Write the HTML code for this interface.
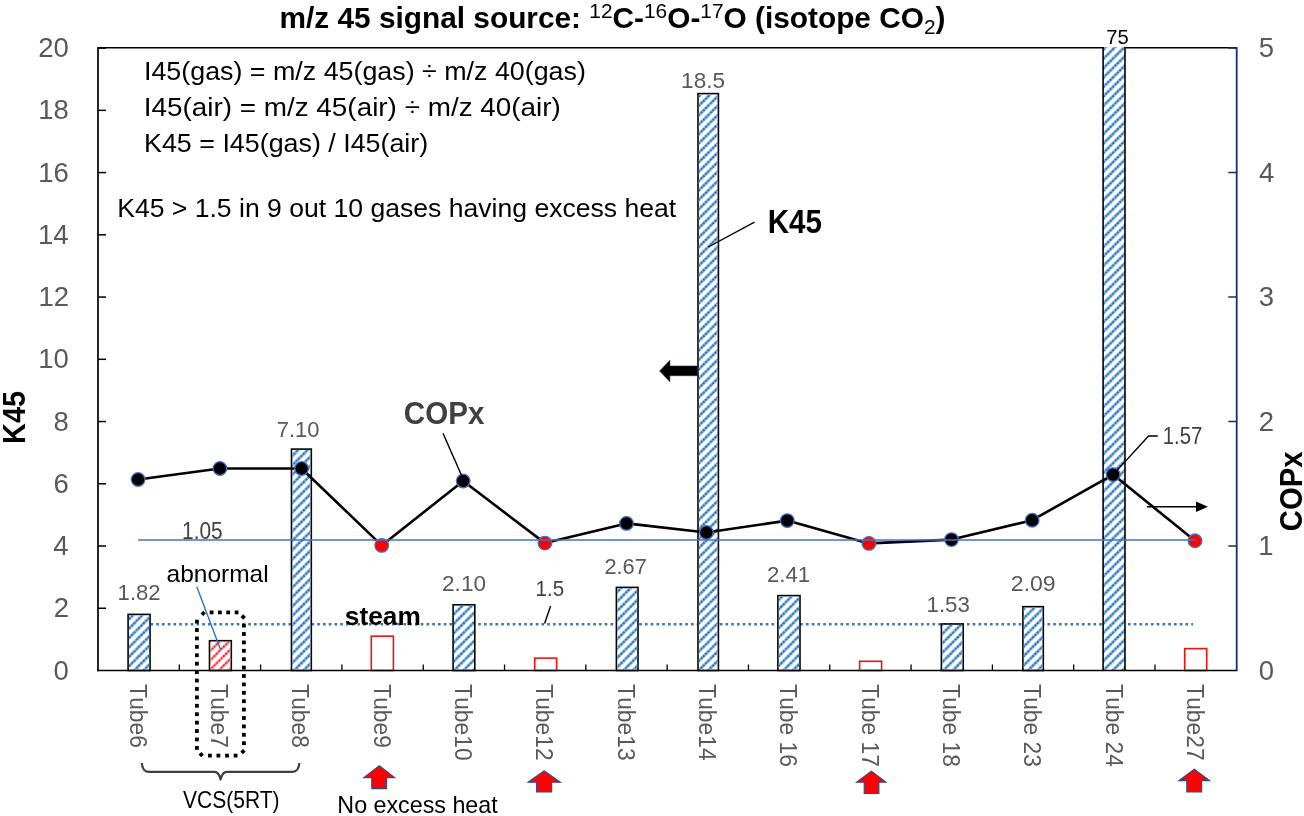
<!DOCTYPE html>
<html><head><meta charset="utf-8"><style>
html,body{margin:0;padding:0;background:#fff;width:1304px;height:816px;overflow:hidden}
svg{display:block;filter:blur(0.4px)}
text{font-family:"Liberation Sans",sans-serif}
</style></head><body>
<svg width="1304" height="816" viewBox="0 0 1304 816">
<defs>
<pattern id="hb" patternUnits="userSpaceOnUse" x="4.7" y="0" width="9.41" height="9.41">
<path d="M-2,2 L2,-2 M0,9.41 L9.41,0 M7.41,11.41 L11.41,7.41" stroke="#86b7e3" stroke-width="2.9"/>
<path d="M-2,2 L2,-2 M0,9.41 L9.41,0 M7.41,11.41 L11.41,7.41" stroke="#1a68bb" stroke-width="2.0" stroke-dasharray="2.0 1.32" stroke-dashoffset="0.5"/>
</pattern>
<pattern id="hr" patternUnits="userSpaceOnUse" x="4.7" y="0" width="9.41" height="9.41">
<path d="M-2,2 L2,-2 M0,9.41 L9.41,0 M7.41,11.41 L11.41,7.41" stroke="#ff9a9a" stroke-width="2.5"/>
<path d="M-2,2 L2,-2 M0,9.41 L9.41,0 M7.41,11.41 L11.41,7.41" stroke="#ff0000" stroke-width="1.7" stroke-dasharray="2.0 1.32" stroke-dashoffset="0.5"/>
</pattern>
</defs>

<text x="279.5" y="27.8" font-size="30" font-weight="bold" fill="#000" textLength="666" lengthAdjust="spacingAndGlyphs">m/z 45 signal source: <tspan font-size="21" font-weight="normal" dy="-10">12</tspan><tspan dy="10">C-</tspan><tspan font-size="21" font-weight="normal" dy="-10">16</tspan><tspan dy="10">O-</tspan><tspan font-size="21" font-weight="normal" dy="-10">17</tspan><tspan dy="10">O (isotope CO</tspan><tspan font-size="21" font-weight="normal" dy="6.5">2</tspan><tspan dy="-6.5">)</tspan></text>
<line x1="98.0" y1="47.8" x2="1236.3" y2="47.8" stroke="#000" stroke-width="1.6"/>
<line x1="98.0" y1="47" x2="98.0" y2="671.3" stroke="#000" stroke-width="1.7"/>
<line x1="1236.7" y1="47" x2="1236.7" y2="671.3" stroke="#18305c" stroke-width="1.8"/>
<text x="53.40" y="679.60" font-size="27.5" fill="#595959">0</text>
<line x1="98.0" y1="608.26" x2="106.0" y2="608.26" stroke="#000" stroke-width="1.5"/>
<text x="53.81" y="617.36" font-size="27.5" fill="#595959">2</text>
<line x1="98.0" y1="546.02" x2="106.0" y2="546.02" stroke="#000" stroke-width="1.5"/>
<text x="53.26" y="555.12" font-size="27.5" fill="#595959">4</text>
<line x1="98.0" y1="483.78" x2="106.0" y2="483.78" stroke="#000" stroke-width="1.5"/>
<text x="53.54" y="492.88" font-size="27.5" fill="#595959">6</text>
<line x1="98.0" y1="421.54" x2="106.0" y2="421.54" stroke="#000" stroke-width="1.5"/>
<text x="53.54" y="430.64" font-size="27.5" fill="#595959">8</text>
<line x1="98.0" y1="359.30" x2="106.0" y2="359.30" stroke="#000" stroke-width="1.5"/>
<text x="38.14" y="368.40" font-size="27.5" fill="#595959">10</text>
<line x1="98.0" y1="297.06" x2="106.0" y2="297.06" stroke="#000" stroke-width="1.5"/>
<text x="38.55" y="306.16" font-size="27.5" fill="#595959">12</text>
<line x1="98.0" y1="234.82" x2="106.0" y2="234.82" stroke="#000" stroke-width="1.5"/>
<text x="38.00" y="243.92" font-size="27.5" fill="#595959">14</text>
<line x1="98.0" y1="172.58" x2="106.0" y2="172.58" stroke="#000" stroke-width="1.5"/>
<text x="38.28" y="181.68" font-size="27.5" fill="#595959">16</text>
<line x1="98.0" y1="110.34" x2="106.0" y2="110.34" stroke="#000" stroke-width="1.5"/>
<text x="38.28" y="119.44" font-size="27.5" fill="#595959">18</text>
<line x1="98.0" y1="48.10" x2="106.0" y2="48.10" stroke="#000" stroke-width="1.5"/>
<text x="38.14" y="57.20" font-size="27.5" fill="#595959">20</text>
<text x="1258.70" y="679.60" font-size="27.5" fill="#595959">0</text>
<line x1="1228.3" y1="546.00" x2="1236.7" y2="546.00" stroke="#18305c" stroke-width="1.5"/>
<text x="1258.36" y="555.10" font-size="27.5" fill="#595959">1</text>
<line x1="1228.3" y1="421.50" x2="1236.7" y2="421.50" stroke="#18305c" stroke-width="1.5"/>
<text x="1258.77" y="430.60" font-size="27.5" fill="#595959">2</text>
<line x1="1228.3" y1="297.00" x2="1236.7" y2="297.00" stroke="#18305c" stroke-width="1.5"/>
<text x="1258.77" y="306.10" font-size="27.5" fill="#595959">3</text>
<line x1="1228.3" y1="172.50" x2="1236.7" y2="172.50" stroke="#18305c" stroke-width="1.5"/>
<text x="1258.91" y="181.60" font-size="27.5" fill="#595959">4</text>
<line x1="1228.3" y1="48.00" x2="1236.7" y2="48.00" stroke="#18305c" stroke-width="1.5"/>
<text x="1258.77" y="57.10" font-size="27.5" fill="#595959">5</text>
<line x1="179.31" y1="664.5" x2="179.31" y2="670.5" stroke="#000" stroke-width="1.3"/>
<line x1="260.61" y1="664.5" x2="260.61" y2="670.5" stroke="#000" stroke-width="1.3"/>
<line x1="341.92" y1="664.5" x2="341.92" y2="670.5" stroke="#000" stroke-width="1.3"/>
<line x1="423.23" y1="664.5" x2="423.23" y2="670.5" stroke="#000" stroke-width="1.3"/>
<line x1="504.54" y1="664.5" x2="504.54" y2="670.5" stroke="#000" stroke-width="1.3"/>
<line x1="585.84" y1="664.5" x2="585.84" y2="670.5" stroke="#000" stroke-width="1.3"/>
<line x1="667.15" y1="664.5" x2="667.15" y2="670.5" stroke="#000" stroke-width="1.3"/>
<line x1="748.46" y1="664.5" x2="748.46" y2="670.5" stroke="#000" stroke-width="1.3"/>
<line x1="829.76" y1="664.5" x2="829.76" y2="670.5" stroke="#000" stroke-width="1.3"/>
<line x1="911.07" y1="664.5" x2="911.07" y2="670.5" stroke="#000" stroke-width="1.3"/>
<line x1="992.38" y1="664.5" x2="992.38" y2="670.5" stroke="#000" stroke-width="1.3"/>
<line x1="1073.69" y1="664.5" x2="1073.69" y2="670.5" stroke="#000" stroke-width="1.3"/>
<line x1="1154.99" y1="664.5" x2="1154.99" y2="670.5" stroke="#000" stroke-width="1.3"/>
<line x1="139" y1="624.2" x2="1193" y2="624.2" stroke="#3578bf" stroke-width="2.6" stroke-dasharray="2.6 3.15"/>
<rect x="128.10" y="614.40" width="21.95" height="56.10" fill="#fff" stroke="#000" stroke-width="1.6"/>
<rect x="128.90" y="615.20" width="20.35" height="54.50" fill="url(#hb)"/>
<rect x="209.50" y="640.70" width="21.80" height="29.80" fill="#fff" stroke="#000" stroke-width="1.6"/>
<rect x="210.30" y="641.50" width="20.20" height="28.20" fill="url(#hr)"/>
<rect x="291.50" y="449.10" width="19.80" height="221.40" fill="#fff" stroke="#000" stroke-width="1.6"/>
<rect x="292.30" y="449.90" width="18.20" height="219.80" fill="url(#hb)"/>
<rect x="371.30" y="636.15" width="22.10" height="34.35" fill="none" stroke="#ee1111" stroke-width="1.6"/>
<rect x="453.10" y="604.80" width="21.70" height="65.70" fill="#fff" stroke="#000" stroke-width="1.6"/>
<rect x="453.90" y="605.60" width="20.10" height="64.10" fill="url(#hb)"/>
<rect x="534.70" y="658.10" width="21.90" height="12.40" fill="none" stroke="#ee1111" stroke-width="1.6"/>
<rect x="616.40" y="587.40" width="21.60" height="83.10" fill="#fff" stroke="#000" stroke-width="1.6"/>
<rect x="617.20" y="588.20" width="20.00" height="81.50" fill="url(#hb)"/>
<rect x="698.00" y="93.60" width="20.40" height="576.90" fill="#fff" stroke="#000" stroke-width="1.6"/>
<rect x="698.80" y="94.40" width="18.80" height="575.30" fill="url(#hb)"/>
<rect x="777.90" y="595.60" width="22.10" height="74.90" fill="#fff" stroke="#000" stroke-width="1.6"/>
<rect x="778.70" y="596.40" width="20.50" height="73.30" fill="url(#hb)"/>
<rect x="859.60" y="661.30" width="22.00" height="9.20" fill="none" stroke="#ee1111" stroke-width="1.6"/>
<rect x="941.40" y="624.00" width="21.80" height="46.50" fill="#fff" stroke="#000" stroke-width="1.6"/>
<rect x="942.20" y="624.80" width="20.20" height="44.90" fill="url(#hb)"/>
<rect x="1022.90" y="606.70" width="20.40" height="63.80" fill="#fff" stroke="#000" stroke-width="1.6"/>
<rect x="1023.70" y="607.50" width="18.80" height="62.20" fill="url(#hb)"/>
<rect x="1103.10" y="47" width="21.90" height="623.50" fill="#fff"/>
<rect x="1103.10" y="47" width="21.90" height="623.50" fill="url(#hb)"/>
<line x1="1103.10" y1="47" x2="1103.10" y2="670.5" stroke="#000" stroke-width="1.6"/>
<line x1="1125.00" y1="47" x2="1125.00" y2="670.5" stroke="#000" stroke-width="1.6"/>
<rect x="1184.70" y="648.60" width="22.00" height="21.90" fill="none" stroke="#ee1111" stroke-width="1.6"/>
<line x1="97.2" y1="670.5" x2="1236.3" y2="670.5" stroke="#000" stroke-width="1.6"/>
<polyline points="138.1,479.5 219.9,468.5 301.6,468.5 381.7,545.4 463.2,481 544.9,543.1 626.5,523.4 706.4,532.5 787.3,520.6 868.9,543.4 951.5,539.6 1032.2,520.2 1113.1,474.6 1195,540.8" fill="none" stroke="#000" stroke-width="2.6" stroke-linejoin="round"/>
<circle cx="138.1" cy="479.5" r="6.8" fill="#000" stroke="#4472c4" stroke-width="1.3"/>
<circle cx="219.9" cy="468.5" r="6.8" fill="#000" stroke="#4472c4" stroke-width="1.3"/>
<circle cx="301.6" cy="468.5" r="6.8" fill="#000" stroke="#4472c4" stroke-width="1.3"/>
<circle cx="381.7" cy="545.4" r="6.8" fill="#ff0000" stroke="#4472c4" stroke-width="1.3"/>
<circle cx="463.2" cy="481" r="6.8" fill="#000" stroke="#4472c4" stroke-width="1.3"/>
<circle cx="544.9" cy="543.1" r="6.8" fill="#ff0000" stroke="#4472c4" stroke-width="1.3"/>
<circle cx="626.5" cy="523.4" r="6.8" fill="#000" stroke="#4472c4" stroke-width="1.3"/>
<circle cx="706.4" cy="532.5" r="6.8" fill="#000" stroke="#4472c4" stroke-width="1.3"/>
<circle cx="787.3" cy="520.6" r="6.8" fill="#000" stroke="#4472c4" stroke-width="1.3"/>
<circle cx="868.9" cy="543.4" r="6.8" fill="#ff0000" stroke="#4472c4" stroke-width="1.3"/>
<circle cx="951.5" cy="539.6" r="6.8" fill="#000" stroke="#4472c4" stroke-width="1.3"/>
<circle cx="1032.2" cy="520.2" r="6.8" fill="#000" stroke="#4472c4" stroke-width="1.3"/>
<circle cx="1113.1" cy="474.6" r="6.8" fill="#000" stroke="#4472c4" stroke-width="1.3"/>
<circle cx="1195" cy="540.8" r="6.8" fill="#ff0000" stroke="#4472c4" stroke-width="1.3"/>
<line x1="138.2" y1="540.0" x2="1195.9" y2="540.0" stroke="#4472c4" stroke-width="1.5"/>
<text x="117.64" y="600.20" font-size="22" fill="#595959" textLength="42.99" lengthAdjust="spacingAndGlyphs">1.82</text>
<text x="276.70" y="437.00" font-size="22" fill="#595959" textLength="42.69" lengthAdjust="spacingAndGlyphs">7.10</text>
<text x="442.07" y="591.40" font-size="22" fill="#595959" textLength="43.95" lengthAdjust="spacingAndGlyphs">2.10</text>
<text x="604.41" y="574.00" font-size="22" fill="#595959" textLength="42.51" lengthAdjust="spacingAndGlyphs">2.67</text>
<text x="681.11" y="88.00" font-size="22" fill="#595959" textLength="43.93" lengthAdjust="spacingAndGlyphs">18.5</text>
<text x="767.09" y="582.20" font-size="22" fill="#595959" textLength="43.03" lengthAdjust="spacingAndGlyphs">2.41</text>
<text x="926.53" y="611.60" font-size="22" fill="#595959" textLength="43.39" lengthAdjust="spacingAndGlyphs">1.53</text>
<text x="1010.85" y="591.40" font-size="22" fill="#595959" textLength="44.82" lengthAdjust="spacingAndGlyphs">2.09</text>
<text x="182.03" y="538.60" font-size="23" fill="#404040" textLength="40.63" lengthAdjust="spacingAndGlyphs">1.05</text>
<text x="535.56" y="595.60" font-size="22" fill="#404040" textLength="28.57" lengthAdjust="spacingAndGlyphs">1.5</text>
<text x="1162.78" y="443.60" font-size="23" fill="#404040" textLength="39.57" lengthAdjust="spacingAndGlyphs">1.57</text>
<text x="1106.39" y="43.70" font-size="20" fill="#000" textLength="22.46" lengthAdjust="spacingAndGlyphs">75</text>
<text x="143.99" y="79.60" font-size="26.5" fill="#000" textLength="441.87" lengthAdjust="spacingAndGlyphs">I45(gas) = m/z 45(gas) ÷ m/z 40(gas)</text>
<text x="143.69" y="115.50" font-size="26.5" fill="#000" textLength="417.19" lengthAdjust="spacingAndGlyphs">I45(air) = m/z 45(air) ÷ m/z 40(air)</text>
<text x="144.05" y="151.70" font-size="26.5" fill="#000" textLength="284.16" lengthAdjust="spacingAndGlyphs">K45 = I45(gas) / I45(air)</text>
<text x="117.17" y="216.50" font-size="26.5" fill="#000" textLength="559.03" lengthAdjust="spacingAndGlyphs">K45 &gt; 1.5 in 9 out 10 gases having excess heat</text>
<text x="767.67" y="232.60" font-size="32.5" font-weight="bold" fill="#000" textLength="54.35" lengthAdjust="spacingAndGlyphs">K45</text>
<line x1="708.3" y1="247" x2="754.5" y2="222.1" stroke="#000" stroke-width="1.4"/>
<polygon points="659.6,371 669.9,360.3 669.9,366 697.5,366 697.5,375.7 669.9,375.7 669.9,381.8" fill="#000" stroke="#1f2a44" stroke-width="0.6"/>
<text x="403.82" y="424.00" font-size="32" font-weight="bold" fill="#404040" textLength="80.53" lengthAdjust="spacingAndGlyphs">COPx</text>
<line x1="443" y1="433.3" x2="461.3" y2="474.9" stroke="#000" stroke-width="1.4"/>
<polyline points="1113.1,474.6 1148.6,436 1157.8,436" fill="none" stroke="#000" stroke-width="1.4"/>
<line x1="1147" y1="506.8" x2="1200" y2="506.8" stroke="#000" stroke-width="1.6"/>
<polygon points="1208,506.8 1196,501.5 1196,512.1" fill="#000"/>
<text x="344.88" y="624.80" font-size="25" font-weight="bold" fill="#000" textLength="75.91" lengthAdjust="spacingAndGlyphs">steam</text>
<text x="166.62" y="582.30" font-size="24" fill="#000" textLength="102.07" lengthAdjust="spacingAndGlyphs">abnormal</text>
<line x1="196.8" y1="586.7" x2="220.6" y2="649.7" stroke="#2e75b6" stroke-width="1.4"/>
<g fill="#000"><rect x="195.00" y="619.68" width="3.8" height="3.8"/><rect x="195.00" y="628.10" width="3.8" height="3.8"/><rect x="195.00" y="636.52" width="3.8" height="3.8"/><rect x="195.00" y="644.94" width="3.8" height="3.8"/><rect x="195.00" y="653.36" width="3.8" height="3.8"/><rect x="195.00" y="661.78" width="3.8" height="3.8"/><rect x="195.00" y="670.20" width="3.8" height="3.8"/><rect x="195.00" y="678.62" width="3.8" height="3.8"/><rect x="195.00" y="687.04" width="3.8" height="3.8"/><rect x="195.00" y="695.46" width="3.8" height="3.8"/><rect x="195.00" y="703.88" width="3.8" height="3.8"/><rect x="195.00" y="712.30" width="3.8" height="3.8"/><rect x="195.00" y="720.72" width="3.8" height="3.8"/><rect x="195.00" y="729.14" width="3.8" height="3.8"/><rect x="195.00" y="737.56" width="3.8" height="3.8"/><rect x="195.00" y="745.98" width="3.8" height="3.8"/><rect x="242.00" y="623.70" width="3.8" height="3.8"/><rect x="242.00" y="632.10" width="3.8" height="3.8"/><rect x="242.00" y="640.50" width="3.8" height="3.8"/><rect x="242.00" y="648.90" width="3.8" height="3.8"/><rect x="242.00" y="657.30" width="3.8" height="3.8"/><rect x="242.00" y="665.70" width="3.8" height="3.8"/><rect x="242.00" y="674.10" width="3.8" height="3.8"/><rect x="242.00" y="682.50" width="3.8" height="3.8"/><rect x="242.00" y="690.90" width="3.8" height="3.8"/><rect x="242.00" y="699.30" width="3.8" height="3.8"/><rect x="242.00" y="707.70" width="3.8" height="3.8"/><rect x="242.00" y="716.10" width="3.8" height="3.8"/><rect x="242.00" y="724.50" width="3.8" height="3.8"/><rect x="242.00" y="732.90" width="3.8" height="3.8"/><rect x="242.00" y="741.30" width="3.8" height="3.8"/><rect x="209.70" y="610.50" width="3.8" height="3.8"/><rect x="218.00" y="610.50" width="3.8" height="3.8"/><rect x="226.30" y="610.50" width="3.8" height="3.8"/><rect x="234.70" y="610.50" width="3.8" height="3.8"/><rect x="208.00" y="753.70" width="3.8" height="3.8"/><rect x="216.50" y="753.70" width="3.8" height="3.8"/><rect x="225.10" y="753.70" width="3.8" height="3.8"/><rect x="233.70" y="753.70" width="3.8" height="3.8"/></g>
<rect x="201.30" y="611.50" width="3.8" height="3.8" transform="rotate(45 203.2 613.4)" fill="#000"/>
<rect x="241.30" y="615.10" width="3.8" height="3.8" transform="rotate(45 243.2 617.0)" fill="#000"/>
<rect x="199.30" y="752.70" width="3.8" height="3.8" transform="rotate(45 201.2 754.6)" fill="#000"/>
<rect x="241.10" y="749.70" width="3.8" height="3.8" transform="rotate(45 243.0 751.6)" fill="#000"/>
<text transform="translate(24.60,443.88) rotate(-90)" font-size="32" font-weight="bold" fill="#000" textLength="52.99" lengthAdjust="spacingAndGlyphs">K45</text>
<text transform="translate(1301.80,531.17) rotate(-90)" font-size="32" font-weight="bold" fill="#000" textLength="79.81" lengthAdjust="spacingAndGlyphs">COPx</text>
<text transform="translate(129.60,684.04) rotate(90)" font-size="23.5" fill="#595959" textLength="63.85" lengthAdjust="spacingAndGlyphs">Tube6</text>
<text transform="translate(210.95,684.04) rotate(90)" font-size="23.5" fill="#595959" textLength="63.85" lengthAdjust="spacingAndGlyphs">Tube7</text>
<text transform="translate(292.30,684.04) rotate(90)" font-size="23.5" fill="#595959" textLength="63.85" lengthAdjust="spacingAndGlyphs">Tube8</text>
<text transform="translate(373.65,684.04) rotate(90)" font-size="23.5" fill="#595959" textLength="63.85" lengthAdjust="spacingAndGlyphs">Tube9</text>
<text transform="translate(455.00,684.04) rotate(90)" font-size="23.5" fill="#595959" textLength="76.54" lengthAdjust="spacingAndGlyphs">Tube10</text>
<text transform="translate(536.35,684.04) rotate(90)" font-size="23.5" fill="#595959" textLength="76.54" lengthAdjust="spacingAndGlyphs">Tube12</text>
<text transform="translate(617.70,684.04) rotate(90)" font-size="23.5" fill="#595959" textLength="76.54" lengthAdjust="spacingAndGlyphs">Tube13</text>
<text transform="translate(699.05,684.04) rotate(90)" font-size="23.5" fill="#595959" textLength="76.54" lengthAdjust="spacingAndGlyphs">Tube14</text>
<text transform="translate(780.40,684.04) rotate(90)" font-size="23.5" fill="#595959" textLength="82.87" lengthAdjust="spacingAndGlyphs">Tube 16</text>
<text transform="translate(861.75,684.04) rotate(90)" font-size="23.5" fill="#595959" textLength="82.88" lengthAdjust="spacingAndGlyphs">Tube 17</text>
<text transform="translate(943.10,684.04) rotate(90)" font-size="23.5" fill="#595959" textLength="82.87" lengthAdjust="spacingAndGlyphs">Tube 18</text>
<text transform="translate(1024.45,684.04) rotate(90)" font-size="23.5" fill="#595959" textLength="82.87" lengthAdjust="spacingAndGlyphs">Tube 23</text>
<text transform="translate(1105.80,684.04) rotate(90)" font-size="23.5" fill="#595959" textLength="82.88" lengthAdjust="spacingAndGlyphs">Tube 24</text>
<text transform="translate(1187.15,684.04) rotate(90)" font-size="23.5" fill="#595959" textLength="76.54" lengthAdjust="spacingAndGlyphs">Tube27</text>
<path d="M141.8,763 Q142.5,771.8 148.5,771.8 L214.5,771.8 Q218.8,771.8 220.6,779.4 Q222.4,771.8 226.7,771.8 L292.5,771.8 Q298.7,771.8 299.4,763" fill="none" stroke="#404040" stroke-width="2.2" stroke-linejoin="round"/>
<text x="183.09" y="807.80" font-size="24" fill="#000" textLength="96.54" lengthAdjust="spacingAndGlyphs">VCS(5RT)</text>
<text x="337.34" y="812.50" font-size="24" fill="#000" textLength="160.34" lengthAdjust="spacingAndGlyphs">No excess heat</text>
<polygon points="379.3,765.6 394.7,777.6 386.6,777.6 386.6,788.6 371.75,788.6 371.75,777.6 363.8,777.6" fill="#ff0000" stroke="#2f4b8f" stroke-width="1.1"/>
<polygon points="544,770.8 560.4,782.2 551.6,782.2 551.6,792 536.5,792 536.5,782.2 528,782.2" fill="#ff0000" stroke="#2f4b8f" stroke-width="1.1"/>
<polygon points="871.4,771.1 886,782.2 878.9,782.2 878.9,793.5 864.2,793.5 864.2,782.2 856.5,782.2" fill="#ff0000" stroke="#2f4b8f" stroke-width="1.1"/>
<polygon points="1194.3,769.3 1209.7,780.6 1201.6,780.6 1201.6,792 1186.8,792 1186.8,780.6 1178.8,780.6" fill="#ff0000" stroke="#2f4b8f" stroke-width="1.1"/>
<line x1="544.6" y1="623.6" x2="550.6" y2="606" stroke="#000" stroke-width="1.4"/>
</svg></body></html>
